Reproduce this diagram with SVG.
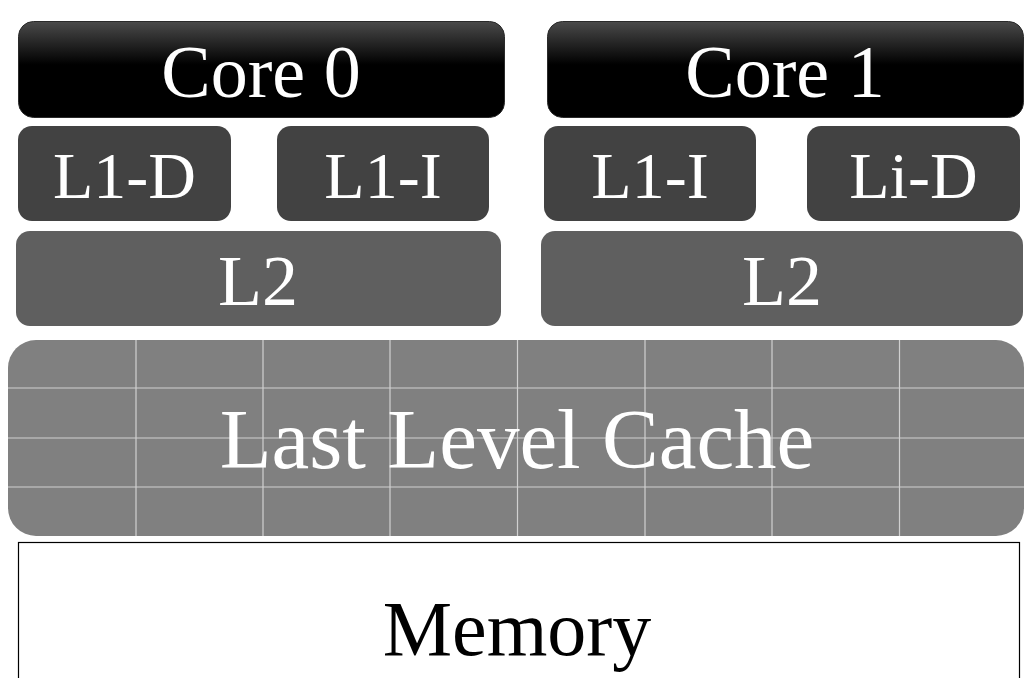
<svg xmlns="http://www.w3.org/2000/svg" width="1024" height="678" viewBox="0 0 1024 678">
<style>
.t{font-family:"Liberation Serif","Times New Roman",serif;fill:#fff;text-anchor:middle}
.core{fill:url(#cg);stroke:#2a2a2a;stroke-width:1}
.l1{fill:#424242}
.l2{fill:#5f5f5f}
.grid{stroke:#d0d0d0;stroke-width:1.2;fill:none}
</style>
<defs>
<linearGradient id="cg" x1="0" y1="0" x2="0" y2="1">
<stop offset="0" stop-color="#4a4a4a"/>
<stop offset="0.45" stop-color="#000"/>
<stop offset="1" stop-color="#000"/>
</linearGradient>
<clipPath id="llcClip"><rect x="8" y="340" width="1016" height="196" rx="28"/></clipPath>
</defs>
<rect width="1024" height="678" fill="#fff"/>
<g id="core0"><rect class="core" x="18.5" y="21.5" width="486" height="96" rx="15"/><text class="t" x="261" y="97" font-size="74">Core 0</text></g>
<g id="core1"><rect class="core" x="547.5" y="21.5" width="476" height="96" rx="15"/><text class="t" x="785" y="97" font-size="74">Core 1</text></g>
<g id="l1d0"><rect class="l1" x="18" y="126" width="213" height="95" rx="14"/><text class="t" x="124.5" y="198" font-size="66">L1-D</text></g>
<g id="l1i0"><rect class="l1" x="277" y="126" width="212" height="95" rx="14"/><text class="t" x="383" y="198" font-size="66">L1-I</text></g>
<g id="l1i1"><rect class="l1" x="544" y="126" width="212" height="95" rx="14"/><text class="t" x="650" y="198" font-size="66">L1-I</text></g>
<g id="l1d1"><rect class="l1" x="807" y="126" width="213" height="95" rx="14"/><text class="t" x="913.5" y="198" font-size="66">Li-D</text></g>
<g id="l20"><rect class="l2" x="16" y="231" width="485" height="95" rx="14"/><text class="t" x="258" y="305" font-size="72">L2</text></g>
<g id="l21"><rect class="l2" x="541" y="231" width="482" height="95" rx="14"/><text class="t" x="782" y="305" font-size="72">L2</text></g>
<g id="llc">
<rect x="8" y="340" width="1016" height="196" rx="28" fill="#808080"/>
<g class="grid" clip-path="url(#llcClip)">
<path d="M136 340V536M263 340V536M390 340V536M517.5 340V536M645 340V536M772 340V536M899.5 340V536"/>
<path d="M8 388H1024M8 438H1024M8 487H1024"/>
</g>
<text class="t" x="517" y="468" font-size="85">Last Level Cache</text>
</g>
<g id="memory"><rect x="18.5" y="542.5" width="1001" height="150" fill="#fff" stroke="#000" stroke-width="1.2"/><text x="517" y="655" font-size="78" font-family="'Liberation Serif','Times New Roman',serif" text-anchor="middle" fill="#000">Memory</text></g>
<g id="connectors"/>
</svg>
